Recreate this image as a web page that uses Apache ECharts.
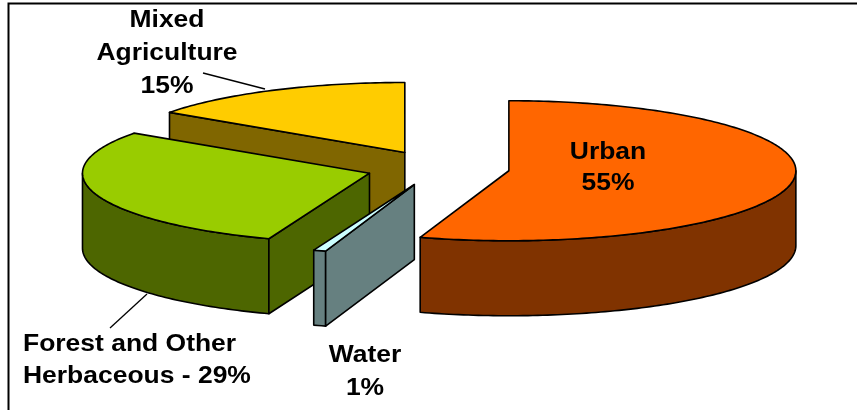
<!DOCTYPE html>
<html>
<head>
<meta charset="utf-8">
<script src="https://cdn.jsdelivr.net/npm/echarts@6/dist/echarts.min.js"></script>
<style>
html, body { margin: 0; padding: 0; background: #fff; }
#chart { width: 857px; height: 410px; }
</style>
</head>
<body>
<div id="chart"></div>
<script>
// slices, clockwise from 12 o'clock
var categories = ["Urban", "Water", "Forest and Other Herbaceous", "Mixed Agriculture"];
var shares = [55.0, 0.7, 29.0, 15.3];
var labelNames = ["Urban", "Water", "Forest and Other\nHerbaceous", "Mixed\nAgriculture"];
var labelJoin = ["\n", "\n", " - ", "\n"];

var topColors = ["#FF6600", "#CCFFFF", "#99CC00", "#FFCC00"];
var sideColors = ["#803300", "#668080", "#4D6600", "#806600"];

// where each label sits: x, y (block centre), align, line height, leader line
var labelLayout = [
	{ x: 608, y: 168, align: "center", lh: 31, line: null },
	{ x: 365, y: 372, align: "center", lh: 33, line: null },
	{ x: 23, y: 361, align: "left", lh: 32, line: [110, 328, 147, 294] },
	{ x: 167, y: 54, align: "center", lh: 33, line: [203, 73, 265, 89] }
];

var pie = { cx: 438, cy: 168, rx: 287, ry: 70, depth: 75, explode: 0.25 };

var total = shares.reduce(function (a, b) { return a + b; }, 0);
var startAngles = [];
var acc = 0;
for (var k = 0; k < shares.length; k++) {
	startAngles.push(acc / total * 360);
	acc += shares[k];
}

function rad(d) {
	return d * Math.PI / 180;
}

function renderSlice(params, api) {
	var i = params.dataIndex;
	var v = api.value(0);
	var a0 = startAngles[i];
	var a1 = a0 + v / total * 360;
	var mid = rad((a0 + a1) / 2);
	var cx = pie.cx + pie.explode * pie.rx * Math.sin(mid);
	var cy = pie.cy - pie.explode * pie.ry * Math.cos(mid);
	var h = pie.depth;
	var order = -Math.cos(mid) * 100;

	function pt(d, dy) {
		return [cx + pie.rx * Math.sin(rad(d)), cy - pie.ry * Math.cos(rad(d)) + (dy || 0)];
	}
	function arc(s, e, dy) {
		var n = Math.max(2, Math.ceil(e - s) + 1);
		var out = [];
		for (var j = 0; j < n; j++) {
			out.push(pt(s + (e - s) * j / (n - 1), dy));
		}
		return out;
	}
	var edge = { stroke: "#000", lineWidth: 1.6, lineJoin: "round" };
	function poly(points, fill, z) {
		return {
			type: "polygon",
			z2: order + z,
			shape: { points: points },
			style: Object.assign({ fill: fill }, edge)
		};
	}

	var children = [];
	// outer wall, only the front half shows
	var ws = Math.max(a0, 90), we = Math.min(a1, 270);
	if (we > ws) {
		var topArc = arc(ws, we, 0);
		var botArc = arc(ws, we, h).reverse();
		children.push(poly(topArc.concat(botArc), sideColors[i], 1));
	}
	// cut faces
	if (Math.sin(rad(a0)) < -1e-6) {
		var p = pt(a0, 0);
		children.push(poly([[cx, cy], p, [p[0], p[1] + h], [cx, cy + h]], sideColors[i], 1));
	}
	if (Math.sin(rad(a1)) > 1e-6) {
		var q = pt(a1, 0);
		children.push(poly([[cx, cy], q, [q[0], q[1] + h], [cx, cy + h]], sideColors[i], 1));
	}
	// top
	children.push(poly([[cx, cy]].concat(arc(a0, a1, 0)), topColors[i], 3));

	// label
	var lay = labelLayout[i];
	children.push({
		type: "text",
		x: lay.x,
		y: lay.y,
		scaleX: 1.15,
		z2: 1000,
		style: {
			text: labelNames[i] + labelJoin[i] + Math.round(v) + "%",
			fill: "#000",
			fontFamily: "Liberation Sans",
			fontWeight: "bold",
			fontSize: 23,
			lineHeight: lay.lh,
			align: lay.align,
			verticalAlign: "middle"
		}
	});
	if (lay.line) {
		children.push({
			type: "line",
			z2: 1000,
			shape: { x1: lay.line[0], y1: lay.line[1], x2: lay.line[2], y2: lay.line[3] },
			style: { stroke: "#000", lineWidth: 1.3 }
		});
	}
	return { type: "group", children: children };
}

var chart = echarts.init(document.getElementById("chart"));
chart.setOption({
	animation: false,
	backgroundColor: "#fff",
	graphic: [
		{
			type: "polyline",
			shape: { points: [[8.5, 410], [8.5, 3.5], [857, 3.5]] },
			style: { stroke: "#000", lineWidth: 2, fill: null }
		}
	],
	series: [
		{
			type: "custom",
			coordinateSystem: "none",
			renderItem: renderSlice,
			data: shares.map(function (s, i) {
				return { name: categories[i], value: [s] };
			})
		}
	]
});
</script>
</body>
</html>
